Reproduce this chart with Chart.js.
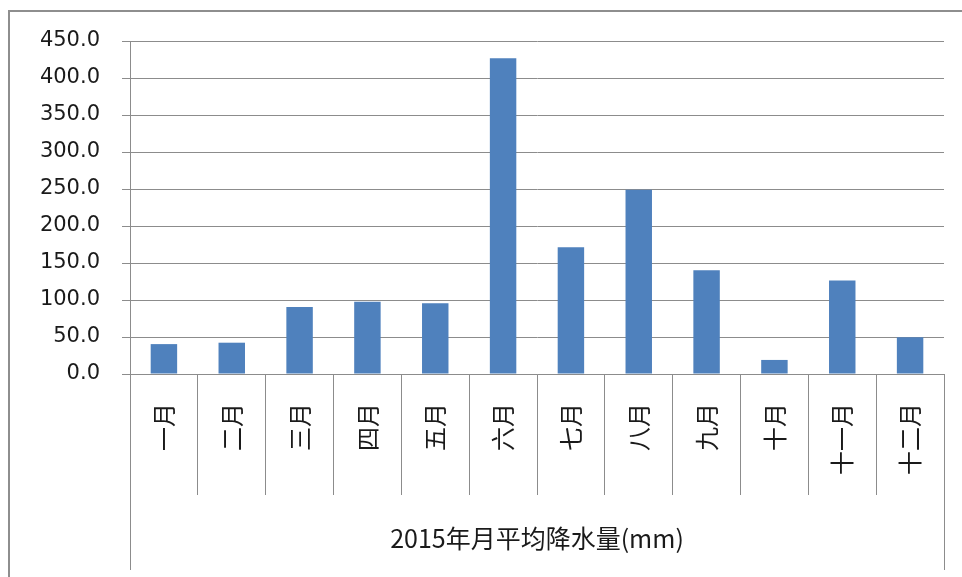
<!DOCTYPE html>
<html>
<head>
<meta charset="utf-8">
<script src="https://cdn.jsdelivr.net/npm/chart.js@4/dist/chart.umd.min.js"></script>
<style>
  html, body { margin: 0; padding: 0; background: #fff; overflow: hidden; }
  #frame {
    position: absolute; left: 8px; top: 10px;
    width: 1000px; height: 1000px;
    border: 2px solid #8e8e8e;
  }
  #myChart { position: absolute; left: 0; top: 0; }
</style>
</head>
<body>
<div id="frame"></div>
<canvas id="myChart" width="962" height="577"></canvas>
<script>
const months = ["一月", "二月", "三月", "四月", "五月", "六月", "七月", "八月", "九月", "十月", "十一月", "十二月"];
const rainfall = [40.4, 42.3, 90.4, 97.5, 95.7, 426.8, 171.3, 249.0, 140.3, 19.0, 126.4, 49.6];
const groupLabels = ["2015年月平均降水量(mm)"];
const yTicks = [0, 50, 100, 150, 200, 250, 300, 350, 400, 450];

const canvas = document.getElementById("myChart");
const lineGrey = "#8c8c8c";

const myChart = new Chart(canvas, {
  type: "bar",
  data: {
    labels: months,
    datasets: [
      {
        data: rainfall,
        backgroundColor: "#4f81bd",
        borderWidth: 0,
        barPercentage: 0.39,
        categoryPercentage: 1,
      },
    ],
  },
  options: {
    responsive: false,
    animation: false,
    events: [],
    layout: { padding: { left: 0, top: 41, right: 18, bottom: 7 } },
    plugins: {
      legend: { display: false },
      tooltip: { enabled: false },
    },
    scales: {
      y: {
        min: yTicks[0],
        max: yTicks[yTicks.length - 1],
        afterBuildTicks: (scale) => {
          scale.ticks = yTicks.map((v) => ({ value: v }));
        },
        afterFit: (scale) => {
          scale.width = 130;
        },
        ticks: {
          padding: 22,
          color: "#1a1a1a",
          font: { family: "DejaVu Sans", size: 21 },
          callback: (v) => Number(v).toFixed(1),
        },
        grid: { color: lineGrey, lineWidth: 1, tickLength: 8 },
        border: { color: lineGrey, width: 1 },
      },
      x: {
        weight: 0,
        afterFit: (scale) => {
          scale.height = 121;
        },
        grid: {
          offset: true,
          drawOnChartArea: false,
          tickLength: 121,
          color: lineGrey,
        },
        border: { color: lineGrey, width: 1 },
        ticks: {
          autoSkip: false,
          minRotation: 90,
          maxRotation: 90,
          padding: -92,
          color: "#1a1a1a",
          font: { family: "Noto Sans CJK SC", size: 24 },
        },
      },
      x2: {
        type: "category",
        position: "bottom",
        weight: 1,
        labels: groupLabels,
        afterFit: (scale) => {
          scale.height = 75;
        },
        grid: {
          offset: true,
          drawOnChartArea: false,
          tickLength: 75,
          color: lineGrey,
        },
        border: { display: false },
        ticks: {
          maxRotation: 0,
          padding: -47,
          color: "#1a1a1a",
          font: { family: "Noto Sans CJK SC", size: 25 },
        },
      },
    },
  },
});
</script>
</body>
</html>
